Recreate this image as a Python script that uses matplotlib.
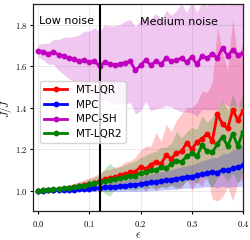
import numpy as np
import matplotlib
matplotlib.use("Agg")
from matplotlib import pyplot as plt
from matplotlib.ticker import FuncFormatter

plt.rcParams['mathtext.fontset'] = 'cm'
plt.rcParams['font.family'] = ['DejaVu Sans']

# noise level epsilon
eps = [0.00, 0.01, 0.02, 0.03, 0.04, 0.05, 0.06, 0.07, 0.08, 0.09,
       0.10, 0.11, 0.12, 0.13, 0.14, 0.15, 0.16, 0.17, 0.18, 0.19,
       0.20, 0.21, 0.22, 0.23, 0.24, 0.25, 0.26, 0.27, 0.28, 0.29,
       0.30, 0.31, 0.32, 0.33, 0.34, 0.35, 0.36, 0.37, 0.38, 0.39, 0.40]

# mean J/Jbar
mt_lqr = [1.000, 1.001, 1.003, 1.005, 1.008, 1.010, 1.014, 1.018, 1.022, 1.027,
          1.032, 1.038, 1.045, 1.055, 1.062, 1.065, 1.075, 1.080, 1.088, 1.092,
          1.115, 1.105, 1.125, 1.140, 1.130, 1.170, 1.155, 1.180, 1.190, 1.230,
          1.200, 1.235, 1.250, 1.275, 1.240, 1.370, 1.320, 1.300, 1.390, 1.340, 1.385]
mpc = [1.000, 1.000, 1.001, 1.001, 1.002, 1.003, 1.004, 1.005, 1.007, 1.009,
       1.010, 1.012, 1.013, 1.016, 1.018, 1.020, 1.022, 1.025, 1.027, 1.029,
       1.033, 1.036, 1.040, 1.042, 1.047, 1.050, 1.054, 1.058, 1.063, 1.067,
       1.068, 1.074, 1.080, 1.085, 1.090, 1.087, 1.100, 1.098, 1.108, 1.112, 1.122]
mpc_sh = [1.675, 1.670, 1.660, 1.670, 1.655, 1.650, 1.640, 1.635, 1.625, 1.630,
          1.620, 1.625, 1.600, 1.620, 1.610, 1.605, 1.612, 1.618, 1.625, 1.580,
          1.605, 1.630, 1.605, 1.625, 1.610, 1.640, 1.625, 1.630, 1.640, 1.620,
          1.645, 1.610, 1.650, 1.640, 1.660, 1.640, 1.690, 1.650, 1.680, 1.655, 1.665]
mt_lqr2 = [1.000, 1.002, 1.004, 1.006, 1.008, 1.011, 1.014, 1.017, 1.021, 1.025,
           1.030, 1.035, 1.042, 1.047, 1.053, 1.058, 1.060, 1.066, 1.070, 1.073,
           1.085, 1.090, 1.098, 1.100, 1.115, 1.110, 1.130, 1.145, 1.140, 1.165,
           1.180, 1.165, 1.220, 1.190, 1.185, 1.225, 1.260, 1.215, 1.275, 1.215, 1.285]

# spread (std) of each method
mt_lqr_sd = [0.002, 0.004, 0.006, 0.008, 0.010, 0.012, 0.015, 0.018, 0.022, 0.026,
             0.030, 0.034, 0.038, 0.045, 0.040, 0.050, 0.045, 0.060, 0.055, 0.070,
             0.080, 0.110, 0.090, 0.140, 0.110, 0.150, 0.130, 0.160, 0.180, 0.170,
             0.200, 0.190, 0.230, 0.200, 0.280, 0.420, 0.350, 0.280, 0.440, 0.300, 0.330]
mpc_sd = [0.001, 0.002, 0.003, 0.004, 0.005, 0.006, 0.008, 0.009, 0.011, 0.012,
          0.014, 0.016, 0.018, 0.020, 0.022, 0.024, 0.026, 0.028, 0.030, 0.033,
          0.036, 0.038, 0.040, 0.042, 0.044, 0.046, 0.048, 0.050, 0.052, 0.054,
          0.056, 0.060, 0.063, 0.066, 0.070, 0.073, 0.078, 0.082, 0.088, 0.093, 0.100]
mpc_sh_sd = [0.030, 0.040, 0.050, 0.060, 0.075, 0.090, 0.100, 0.110, 0.125, 0.140,
             0.150, 0.160, 0.170, 0.180, 0.185, 0.190, 0.190, 0.200, 0.200, 0.210,
             0.220, 0.200, 0.220, 0.230, 0.210, 0.230, 0.220, 0.240, 0.260, 0.240,
             0.270, 0.250, 0.260, 0.250, 0.270, 0.250, 0.260, 0.240, 0.270, 0.250, 0.260]
mt_lqr2_sd = [0.001, 0.003, 0.005, 0.007, 0.009, 0.011, 0.013, 0.016, 0.019, 0.022,
              0.026, 0.030, 0.034, 0.060, 0.080, 0.050, 0.055, 0.060, 0.065, 0.070,
              0.075, 0.080, 0.085, 0.090, 0.095, 0.100, 0.100, 0.140, 0.115, 0.120,
              0.125, 0.130, 0.140, 0.140, 0.170, 0.160, 0.180, 0.170, 0.190, 0.180, 0.190]

labels = ["MT-LQR", "MPC", "MPC-SH", "MT-LQR2"]
colors = ["r", "b", "m", "g"]
means = [mt_lqr, mpc, mpc_sh, mt_lqr2]
sds = [mt_lqr_sd, mpc_sd, mpc_sh_sd, mt_lqr2_sd]

fig = plt.figure(figsize=(2.5, 2.4), dpi=100)
ax = fig.add_axes([0.132, 0.119, 0.84, 0.864])

x = np.array(eps)
for lab, c, m, s in zip(labels, colors, means, sds):
    m = np.array(m)
    s = np.array(s)
    ax.fill_between(x, m - s, m + s, color=c, alpha=0.22, lw=0, zorder=1)
    ax.plot(x, m, color=c, marker='o', markersize=3.2, lw=2, label=lab, zorder=3)

ax.axvline(0.12, color='k', lw=1.5, zorder=4)

ax.set_xlim(-0.01, 0.4)
ax.set_ylim(0.9, 1.9)
ax.set_xticks([0.0, 0.1, 0.2, 0.3, 0.4])
ax.set_yticks([1.0, 1.2, 1.4, 1.6, 1.8])
fmt = FuncFormatter(lambda v, p: "$%.1f$" % v)
ax.xaxis.set_major_formatter(fmt)
ax.yaxis.set_major_formatter(fmt)
ax.tick_params(labelsize=6.2, length=2.5, width=0.8, pad=1.5)
ax.tick_params(axis='x', pad=3)
ax.grid(True, color='#e6e6e6', lw=0.6, zorder=0)
ax.set_axisbelow(True)
for sp in ax.spines.values():
    sp.set_color('#222222')
    sp.set_linewidth(0.9)

ax.set_xlabel(r"$\epsilon$", fontsize=8, labelpad=1)
ax.set_ylabel(r"$J/\bar{J}$", fontsize=7.5)
ax.yaxis.set_label_coords(-0.085, 0.5)

ax.text(0.03, 0.92, "Low noise", transform=ax.transAxes, fontsize=8, va='center')
ax.text(0.51, 0.915, "Medium noise", transform=ax.transAxes, fontsize=8, va='center')

ax.legend(loc='upper left', bbox_to_anchor=(0.01, 0.655), fontsize=7.5,
          frameon=True, framealpha=0.8, edgecolor='#cccccc', handlelength=2.2,
          borderpad=0.4, labelspacing=0.45, handletextpad=0.8)

fig.savefig("out.png", dpi=100)
